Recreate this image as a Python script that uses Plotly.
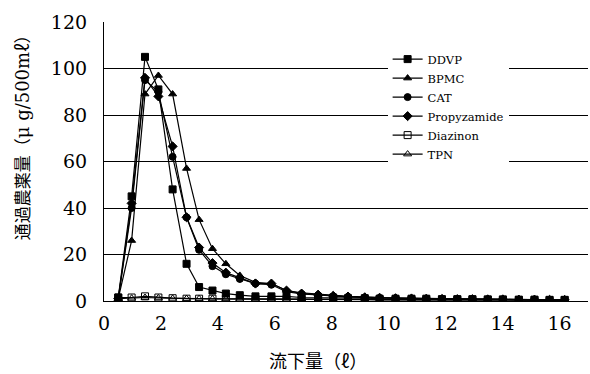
import plotly.graph_objects as go

x_vol = [0.5, 0.97, 1.44, 1.91, 2.41, 2.9, 3.34, 3.81, 4.28, 4.77, 5.32, 5.88, 6.41, 6.94, 7.52,
         8.05, 8.57, 9.16, 9.68, 10.24, 10.8, 11.32, 11.87, 12.41, 12.94, 13.48, 14.01, 14.57,
         15.12, 15.65, 16.18]

ddvp = [1.5, 45, 105, 91, 48, 16, 6, 4.5, 3.2, 2.5, 2, 2, 2, 1.5, 1.5, 1.5, 1.2, 1.2, 1, 1, 1,
        1, 0.8, 0.8, 0.8, 0.7, 0.7, 0.6, 0.6, 0.5, 0.5]
bpmc = [1, 26, 89, 97, 89, 57, 35, 22.5, 16, 11, 8, 7.5, 4.5, 3.5, 3, 2.5, 2, 1.8, 1.5, 1.3, 1.2,
        1, 1, 0.9, 0.8, 0.8, 0.7, 0.6, 0.6, 0.5, 0.5]
cat = [1, 40, 95, 90, 62, 36, 22, 15, 11.5, 9.5, 7.5, 7, 4, 3, 2.5, 2, 1.8, 1.5, 1.3, 1.2, 1,
       1, 0.9, 0.8, 0.8, 0.7, 0.6, 0.6, 0.5, 0.5, 0.5]
propyzamide = [1, 42, 96, 88, 66.5, 36, 23, 16.3, 12.2, 10, 7.5, 7.5, 4.5, 3.2, 2.7, 2.2, 1.9,
               1.6, 1.4, 1.2, 1.1, 1, 0.9, 0.8, 0.8, 0.7, 0.7, 0.6, 0.6, 0.5, 0.5]
diazinon = [1.5, 1.5, 2, 1.5, 1.2, 1, 1, 1, 1, 1, 0.9, 0.9, 0.8, 0.8, 0.8, 0.7, 0.7, 0.7, 0.6,
            0.6, 0.6, 0.5, 0.5, 0.5, 0.5, 0.5, 0.4, 0.4, 0.4, 0.4, 0.4]
tpn = [1, 1.2, 1.5, 1.3, 1.1, 1, 1, 0.9, 0.9, 0.8, 0.8, 0.8, 0.7, 0.7, 0.7, 0.6, 0.6, 0.6, 0.5,
       0.5, 0.5, 0.5, 0.5, 0.4, 0.4, 0.4, 0.4, 0.4, 0.4, 0.3, 0.3]

series = [
    ("DDVP", ddvp, "square"),
    ("BPMC", bpmc, "triangle-up"),
    ("CAT", cat, "circle"),
    ("Propyzamide", propyzamide, "diamond"),
    ("Diazinon", diazinon, "square-open"),
    ("TPN", tpn, "triangle-up-open"),
]

y_ticks = [0, 20, 40, 60, 80, 100, 120]
x_ticks = [0, 2, 4, 6, 8, 10, 12, 14, 16]

serif = "DejaVu Serif"
cjk = "DejaVu Serif, Noto Sans CJK JP"

fig = go.Figure()
for name, vals, sym in series:
    fig.add_trace(go.Scatter(
        x=x_vol, y=vals, name=name, mode="lines+markers",
        line=dict(color="black", width=1.2),
        marker=dict(symbol=sym, size=7, color="black", line=dict(color="black", width=1)),
    ))

fig.update_layout(
    width=590, height=374,
    margin=dict(l=104, r=2, t=22, b=73),
    paper_bgcolor="white", plot_bgcolor="white",
    font=dict(family=serif, color="black", size=19),
    showlegend=True,
    legend=dict(x=0.586, y=0.919, xanchor="left", yanchor="top",
                bgcolor="white", borderwidth=0,
                font=dict(family=serif, size=11.5, color="black"),
                tracegroupgap=0),
    xaxis=dict(range=[0, 17], tickvals=x_ticks, showgrid=False, zeroline=False,
               showline=True, linecolor="black", linewidth=1.2,
               ticks="", ticklabelstandoff=5,
               tickfont=dict(family=serif, size=19, color="black")),
    yaxis=dict(range=[0, 120], tickvals=y_ticks, showgrid=True, gridcolor="black",
               gridwidth=1, zeroline=False, showline=True, linecolor="black",
               linewidth=1.2, ticks="", ticklabelstandoff=12,
               tickfont=dict(family=serif, size=19, color="black")),
    annotations=[
        dict(text="通過農薬量（<span style='font-size:18px'>μ g/500mℓ</span>）",
             xref="paper", yref="paper",
             x=-0.168, y=0.6, xanchor="center", yanchor="middle",
             textangle=-90, showarrow=False,
             font=dict(family=cjk, size=17, color="black")),
        dict(text="流下量（ℓ）", xref="paper", yref="paper",
             x=0.442, y=-0.218, xanchor="center", yanchor="middle",
             showarrow=False,
             font=dict(family=cjk, size=18, color="black")),
    ],
)

fig.write_html("out.html", config={"displayModeBar": False},
               post_script="document.body.style.margin='0';")
